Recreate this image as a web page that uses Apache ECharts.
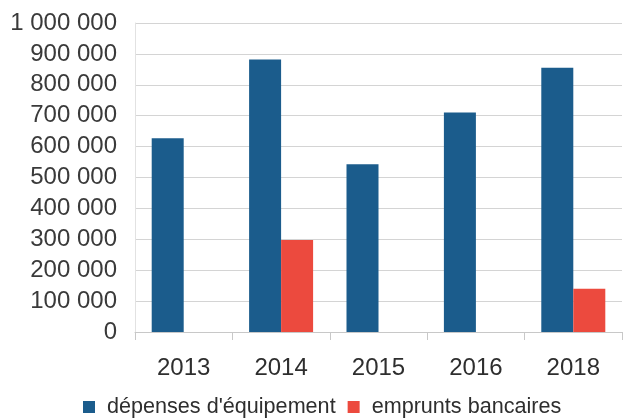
<!DOCTYPE html>
<html>
<head>
<meta charset="utf-8">
<script src="https://cdn.jsdelivr.net/npm/echarts@6/dist/echarts.min.js"></script>
<style>
html,body{margin:0;padding:0;background:#fff;}
#chart{width:627px;height:418px;}
</style>
</head>
<body>
<div id="chart"></div>
<script>
var categories = ['2013', '2014', '2015', '2016', '2018'];
var depensesEquipement = [627000, 882000, 543000, 710000, 855000];
var empruntsBancaires = [null, 298000, null, null, 140000];
var seriesNames = ["dépenses d'équipement", 'emprunts bancaires'];

var chart = echarts.init(document.getElementById('chart'));
var font = '"Liberation Sans", Arial, sans-serif';
chart.setOption({
  animation: false,
  backgroundColor: '#ffffff',
  grid: { left: 135, right: 5, top: 23, bottom: 86 },
  legend: {
    left: 83,
    top: 396,
    padding: 0,
    itemWidth: 12,
    itemHeight: 12,
    itemGap: 12,
    icon: 'rect',
    textStyle: { fontFamily: font, fontSize: 21.6, color: '#2e2e2e', padding: [0, 0, 0, 7] },
    data: seriesNames
  },
  xAxis: {
    type: 'category',
    data: categories,
    axisLine: { show: true, lineStyle: { color: '#c8c8c8', width: 1 } },
    axisTick: { show: true, length: 8, lineStyle: { color: '#c8c8c8' } },
    axisLabel: { fontFamily: font, fontSize: 24, color: '#2e2e2e', margin: 24 }
  },
  yAxis: {
    type: 'value',
    min: 0,
    max: 1000000,
    interval: 100000,
    axisLine: { show: true, lineStyle: { color: '#e2e2e2' } },
    axisTick: { show: false },
    splitLine: { lineStyle: { color: '#d4d4d4', width: 1 } },
    axisLabel: {
      fontFamily: font, fontSize: 24, color: '#3a3a3a', margin: 18,
      formatter: function (v) { return String(v).replace(/\B(?=(\d{3})+(?!\d))/g, ' '); }
    }
  },
  series: [
    { name: seriesNames[0], type: 'bar', data: depensesEquipement, barWidth: 32, barGap: '0%',
      itemStyle: { color: '#1b5c8c' } },
    { name: seriesNames[1], type: 'bar', data: empruntsBancaires, barWidth: 32, barGap: '0%',
      itemStyle: { color: '#ec4a3e' } }
  ]
});
</script>
</body>
</html>
